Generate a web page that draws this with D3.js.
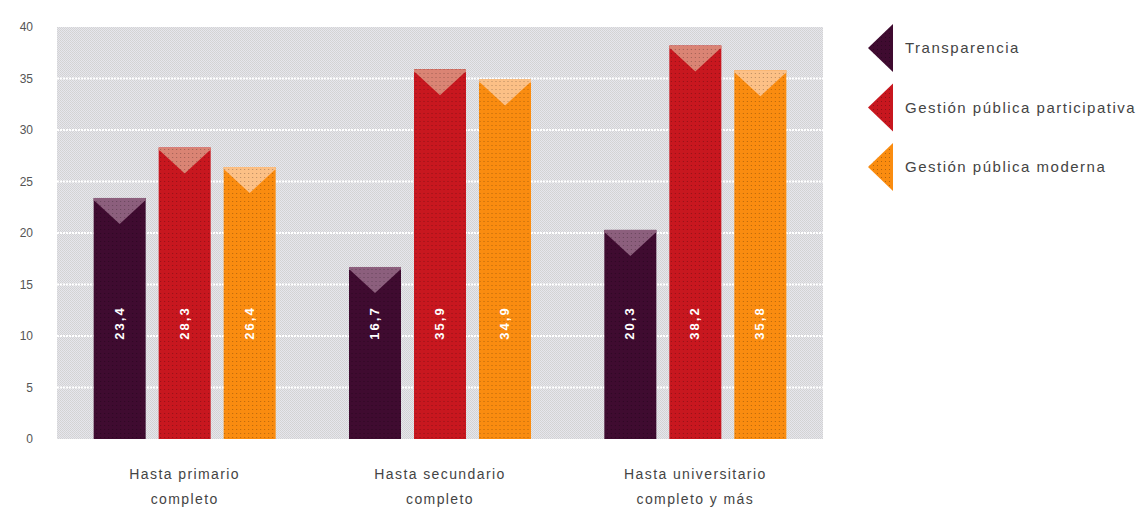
<!DOCTYPE html>
<html><head><meta charset="utf-8">
<script src="https://cdn.jsdelivr.net/npm/d3@7"></script>
<style>body{margin:0;background:#fff;} svg{display:block;font-family:"Liberation Sans",Arial,sans-serif;}</style>
</head><body>
<svg id="c" width="1143" height="511"></svg>
<script>
const categories = [["Hasta primario","completo"],["Hasta secundario","completo"],["Hasta universitario","completo y más"]];
const series = ["Transparencia","Gestión pública participativa","Gestión pública moderna"];
const transparencia = [23.4, 16.7, 20.3];
const participativa = [28.3, 35.9, 38.2];
const moderna = [26.4, 34.9, 35.8];
const yTicks = [0,5,10,15,20,25,30,35,40];
const colors = ["#3f0b30","#c8171f","#fa8c10"];
const lightColors = ["#8c5f7d","#da8474","#fcc086"];

(function(){
const values = [transparencia, participativa, moderna];
const svg = d3.select("#c");
const mLeft = 57, mRight = 823, mTop = 27, mBottom = 439;
const y = d3.scaleLinear().domain([0,40]).range([mBottom, mTop]);
const x0 = d3.scaleBand().domain(d3.range(categories.length)).range([mLeft, mRight]).padding(0);
const x1 = d3.scaleBand().domain(d3.range(series.length)).range([0, 195]).paddingInner(0.2).paddingOuter(0.1);

const defs = svg.append("defs");
const bg = defs.append("pattern").attr("id","bg").attr("width",2).attr("height",2).attr("patternUnits","userSpaceOnUse");
bg.append("rect").attr("width",2).attr("height",2).attr("fill","#e6e6ec");
bg.append("rect").attr("width",1).attr("height",1).attr("fill","#d2d2d2");
bg.append("rect").attr("x",1).attr("y",1).attr("width",1).attr("height",1).attr("fill","#d4d4d6");
const dots = defs.append("pattern").attr("id","dots").attr("width",4).attr("height",4).attr("patternUnits","userSpaceOnUse");
dots.append("rect").attr("x",1).attr("y",1).attr("width",1).attr("height",1).attr("fill","#000").attr("opacity",0.28);

svg.append("rect").attr("x",mLeft).attr("y",mTop).attr("width",mRight-mLeft).attr("height",mBottom-mTop).attr("fill","url(#bg)");

svg.append("g").selectAll("line").data(yTicks.filter(t=>t>0 && t<40)).join("line")
  .attr("x1",mLeft).attr("x2",mRight).attr("y1",d=>y(d)).attr("y2",d=>y(d))
  .attr("stroke","#fff").attr("stroke-width",2).attr("stroke-dasharray","2,1");

const yAxis = d3.axisLeft(y).tickValues(yTicks).tickSize(0).tickPadding(0).tickFormat(d3.format("d"));
const ya = svg.append("g").attr("transform",`translate(${mLeft-24},0)`).call(yAxis);
ya.select(".domain").remove();
ya.selectAll("text").attr("font-size",12).attr("fill","#555").attr("font-family","Liberation Sans, Arial, sans-serif");

categories.forEach((cat, ci) => {
  const g = svg.append("g").attr("transform",`translate(${x0(ci) + (x0.bandwidth()-195)/2},0)`);
  series.forEach((s, si) => {
    const v = values[si][ci];
    const bx = x1(si), bw = x1.bandwidth(), by = y(v), bh = y(0)-y(v);
    g.append("rect").attr("x",bx).attr("y",by).attr("width",bw).attr("height",bh).attr("fill",colors[si]);
    g.append("rect").attr("x",bx).attr("y",by).attr("width",bw).attr("height",3).attr("fill",lightColors[si]);
    g.append("path").attr("d",`M${bx},${by+2}L${bx+bw},${by+2}L${bx+bw/2},${by+26}Z`).attr("fill",lightColors[si]);
    g.append("rect").attr("x",bx).attr("y",by).attr("width",bw).attr("height",bh).attr("fill","url(#dots)");
    const cx = bx + bw/2, cy = 323;
    g.append("text").attr("transform",`translate(${cx+4},${cy}) rotate(-90)`).attr("text-anchor","middle")
      .attr("font-size",13).attr("font-weight","bold").attr("letter-spacing",2).attr("fill","#fff")
      .text(d3.format(".1f")(v).replace(".",","));
  });
  const t = svg.append("text").attr("x",x0(ci)+x0.bandwidth()/2).attr("y",479).attr("text-anchor","middle")
    .attr("font-size",14).attr("letter-spacing",1.4).attr("fill","#444");
  cat.forEach((line, li) => t.append("tspan").attr("x",x0(ci)+x0.bandwidth()/2).attr("dy", li===0?0:25).text(line));
});

const ly = d3.scalePoint().domain(series).range([48,167]);
series.forEach((s, si) => {
  const cy = ly(s);
  svg.append("path").attr("d",`M868,${cy}L893,${cy-24}L893,${cy+24}Z`).attr("fill",colors[si]);
  svg.append("path").attr("d",`M868,${cy}L893,${cy-24}L893,${cy+24}Z`).attr("fill","url(#dots)");
  svg.append("text").attr("x",905).attr("y",cy+5).attr("font-size",15).attr("letter-spacing",1.5).attr("fill","#444").text(s);
});
})();
</script>
</body></html>
